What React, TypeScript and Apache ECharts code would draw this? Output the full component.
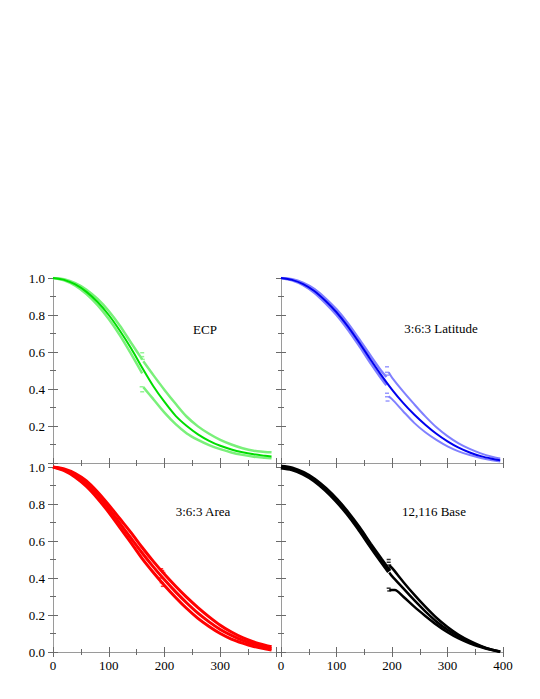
import React, { useEffect, useRef } from "react";
import * as echarts from "echarts";

// ---------- data ----------
const X_FULL = [0, 20, 40, 60, 80, 100, 120, 140, 160, 180, 200, 220, 240, 260, 280, 300, 320, 340, 360, 380, 392];
const X_PRE_ECP = [0, 20, 40, 60, 80, 100, 120, 140, 160];
const X_POST_ECP = [162, 180, 200, 220, 240, 260, 280, 300, 320, 340, 360, 380, 392];

const ecpMid = [1.0, 0.99, 0.965, 0.925, 0.87, 0.8, 0.715, 0.62, 0.515, 0.415, 0.33, 0.255, 0.2, 0.155, 0.12, 0.093, 0.073, 0.058, 0.047, 0.039, 0.035];
const ecpUpPre = [1.0, 0.993, 0.972, 0.937, 0.887, 0.822, 0.742, 0.65, 0.56];
const ecpUpPost = [0.55, 0.475, 0.395, 0.32, 0.25, 0.198, 0.158, 0.125, 0.1, 0.08, 0.066, 0.06, 0.058];
const ecpLoPre = [1.0, 0.987, 0.958, 0.913, 0.853, 0.778, 0.69, 0.59, 0.485];
const ecpLoPost = [0.41, 0.345, 0.272, 0.21, 0.16, 0.125, 0.097, 0.075, 0.057, 0.044, 0.034, 0.028, 0.025];
const ecpDashX = [160, 160, 161, 159, 160];
const ecpDashY = [0.596, 0.575, 0.56, 0.412, 0.385];

const X_LAT = [0, 20, 40, 60, 80, 100, 120, 140, 160, 180, 200, 220, 240, 260, 280, 300, 320, 340, 360, 380, 395];
const X_PRE_LAT = [0, 20, 40, 60, 80, 100, 120, 140, 160, 180, 190];
const X_POST_LAT = [194, 200, 220, 240, 260, 280, 300, 320, 340, 360, 380, 395];
const latMid = [1.0, 0.99, 0.967, 0.93, 0.877, 0.815, 0.74, 0.655, 0.565, 0.478, 0.397, 0.325, 0.262, 0.207, 0.158, 0.117, 0.083, 0.057, 0.037, 0.023, 0.015];
const latUpPre = [1.0, 0.993, 0.973, 0.94, 0.89, 0.83, 0.757, 0.673, 0.585, 0.5, 0.465];
const latLoPre = [1.0, 0.987, 0.961, 0.92, 0.864, 0.8, 0.723, 0.637, 0.546, 0.46, 0.42];
const latUpPost = [0.49, 0.462, 0.387, 0.318, 0.252, 0.193, 0.145, 0.106, 0.076, 0.052, 0.034, 0.025];
const latLoPost = [0.36, 0.345, 0.28, 0.217, 0.166, 0.125, 0.09, 0.063, 0.043, 0.027, 0.015, 0.008];
const latDashX = [191, 191, 192, 191, 191, 192];
const latDashY = [0.52, 0.49, 0.475, 0.377, 0.358, 0.335];

const areaUp = [1.0, 0.99, 0.965, 0.925, 0.865, 0.795, 0.72, 0.645, 0.565, 0.49, 0.42, 0.355, 0.295, 0.24, 0.19, 0.145, 0.108, 0.078, 0.055, 0.037, 0.028];
const areaMid = [1.0, 0.985, 0.955, 0.91, 0.85, 0.775, 0.695, 0.615, 0.535, 0.46, 0.39, 0.325, 0.265, 0.21, 0.163, 0.122, 0.09, 0.063, 0.043, 0.027, 0.018];
const areaLo = [1.0, 0.98, 0.945, 0.895, 0.83, 0.755, 0.672, 0.59, 0.505, 0.43, 0.36, 0.295, 0.235, 0.182, 0.138, 0.1, 0.07, 0.048, 0.03, 0.017, 0.01];
const areaDashX = [194, 196, 198, 193, 195, 197];
const areaDashY = [0.45, 0.44, 0.43, 0.4, 0.375, 0.355];

const X_PRE_BASE = [0, 20, 40, 60, 80, 100, 120, 140, 160, 180, 195];
const X_POST_BASE = [195, 200, 220, 240, 260, 280, 300, 320, 340, 360, 380, 395];
const X_POST_BASE_LO = [195, 205, 220, 240, 260, 280, 300, 320, 340, 360, 380, 395];
const basePre = [1.0, 0.99, 0.966, 0.93, 0.88, 0.82, 0.75, 0.67, 0.582, 0.497, 0.435];
const baseUp = [0.47, 0.455, 0.38, 0.31, 0.245, 0.185, 0.135, 0.093, 0.06, 0.033, 0.013, 0.003];
const baseMid = [0.43, 0.41, 0.345, 0.28, 0.22, 0.165, 0.12, 0.083, 0.053, 0.03, 0.012, 0.002];
const baseLo = [0.335, 0.335, 0.3, 0.245, 0.195, 0.148, 0.107, 0.073, 0.047, 0.027, 0.01, 0.0];
const baseDashX = [194, 194, 195, 195, 194, 195];
const baseDashY = [0.5, 0.485, 0.47, 0.455, 0.345, 0.33];

const PANEL_LABELS = ["ECP", "3:6:3 Latitude", "3:6:3 Area", "12,116 Base"];
const X_TICKS = { min: 0, max: 400, interval: 100 };
const Y_TICKS = { min: 0, max: 1, interval: 0.2 };

const FONT = "Liberation Serif, Times New Roman, serif";

function pairs(xs: number[], ys: number[]) {
  return xs.map((x, i) => [x, ys[i]]);
}

export default function App() {
  const ref = useRef<HTMLDivElement>(null);
  useEffect(() => {
    if (!ref.current) return;
    const chart = echarts.init(ref.current, undefined, { renderer: "svg" });

    const grids = [
      { left: 53, top: 278, width: 223, height: 185 },
      { left: 281, top: 278, width: 222, height: 185 },
      { left: 53, top: 467, width: 223, height: 185 },
      { left: 281, top: 467, width: 222, height: 185 },
    ];

    const lineC = "#9a9a9a";
    const tickC = "#6a6a6a";
    const xAxes: any[] = [];
    const yAxes: any[] = [];
    grids.forEach((_, gi) => {
      const isBottom = gi >= 2;
      const isLeft = gi % 2 === 0;
      const common = {
        gridIndex: gi,
        type: "value",
        splitLine: { show: false },
        axisLine: { show: true, lineStyle: { color: lineC, width: 1 } },
        axisTick: { show: true, inside: true, length: 5, lineStyle: { color: tickC } },
        minorTick: { show: true, splitNumber: 2, length: 3, lineStyle: { color: tickC } },
      };
      xAxes.push({
        ...common,
        ...X_TICKS,
        position: "bottom",
        axisLabel: {
          show: isBottom,
          fontFamily: FONT,
          fontSize: 13,
          color: "#000",
          margin: 7,
          formatter: (v: number) => (isLeft && v === 400 ? "" : String(v)),
        },
      });
      xAxes.push({ ...common, ...X_TICKS, position: "top", axisLabel: { show: false } });
      yAxes.push({
        ...common,
        ...Y_TICKS,
        position: "left",
        axisLabel: {
          show: isLeft,
          fontFamily: FONT,
          fontSize: 13,
          color: "#000",
          margin: 8,
          formatter: (v: number) => (!isBottom && v === 0 ? "" : v.toFixed(1)),
        },
      });
      yAxes.push({ ...common, ...Y_TICKS, position: "right", axisLabel: { show: false } });
    });

    const line = (gi: number, data: number[][], color: string, width: number, opacity = 1) => ({
      type: "line",
      xAxisIndex: gi * 2,
      yAxisIndex: gi * 2,
      data,
      smooth: 0.3,
      showSymbol: false,
      symbol: "none",
      silent: true,
      lineStyle: { color, width, opacity },
      z: 3,
    });
    const dashes = (gi: number, xs: number[], ys: number[], color: string) => ({
      type: "scatter",
      xAxisIndex: gi * 2,
      yAxisIndex: gi * 2,
      data: pairs(xs, ys),
      symbol: "rect",
      symbolSize: [4, 1.5],
      itemStyle: { color },
      silent: true,
      z: 4,
    });

    const GREEN = "#00dd00";
    const LGREEN = "#7af07a";
    const BLUE = "#0000ee";
    const LBLUE = "#8080ff";
    const RED = "#ff0000";
    const BLACK = "#000000";

    const series: any[] = [
      line(0, pairs(X_PRE_ECP, ecpUpPre), LGREEN, 2.5),
      line(0, pairs(X_POST_ECP, ecpUpPost), LGREEN, 2.5),
      line(0, pairs(X_PRE_ECP, ecpLoPre), LGREEN, 2.5),
      line(0, pairs(X_POST_ECP, ecpLoPost), LGREEN, 2.5),
      line(0, pairs(X_FULL, ecpMid), GREEN, 2),
      dashes(0, ecpDashX, ecpDashY, LGREEN),
      line(1, pairs(X_PRE_LAT, latUpPre), LBLUE, 2.5),
      line(1, pairs(X_PRE_LAT, latLoPre), LBLUE, 2.5),
      line(1, pairs(X_POST_LAT, latUpPost), LBLUE, 2),
      line(1, pairs(X_POST_LAT, latLoPost), LBLUE, 2),
      line(1, pairs(X_LAT, latMid), BLUE, 2),
      dashes(1, latDashX, latDashY, LBLUE),
      line(2, pairs(X_FULL, areaUp), RED, 3),
      line(2, pairs(X_FULL, areaMid), RED, 3),
      line(2, pairs(X_FULL, areaLo), RED, 3),
      dashes(2, areaDashX, areaDashY, RED),
      line(3, pairs(X_PRE_BASE, basePre), BLACK, 5),
      line(3, pairs(X_POST_BASE, baseUp), BLACK, 2.5),
      line(3, pairs(X_POST_BASE, baseMid), BLACK, 2.5),
      line(3, pairs(X_POST_BASE_LO, baseLo), BLACK, 2.5),
      dashes(3, baseDashX, baseDashY, BLACK),
    ];

    const labelPos = [
      [205, 329],
      [441, 328],
      [203, 511],
      [434, 511],
    ];
    const graphic = PANEL_LABELS.map((t, i) => ({
      type: "text",
      x: labelPos[i][0],
      y: labelPos[i][1],
      silent: true,
      style: {
        text: t,
        fontFamily: FONT,
        fontSize: 13,
        fill: "#000",
        textAlign: "center",
        textVerticalAlign: "middle",
      },
    }));

    chart.setOption({
      animation: false,
      backgroundColor: "#ffffff",
      grid: grids.map((g) => ({ ...g, containLabel: false })),
      xAxis: xAxes,
      yAxis: yAxes,
      series,
      graphic,
    });
    return () => chart.dispose();
  }, []);
  return (
    <div
      ref={ref}
      style={{ position: "fixed", left: 0, top: 0, width: 540, height: 699, background: "#fff" }}
    />
  );
}
